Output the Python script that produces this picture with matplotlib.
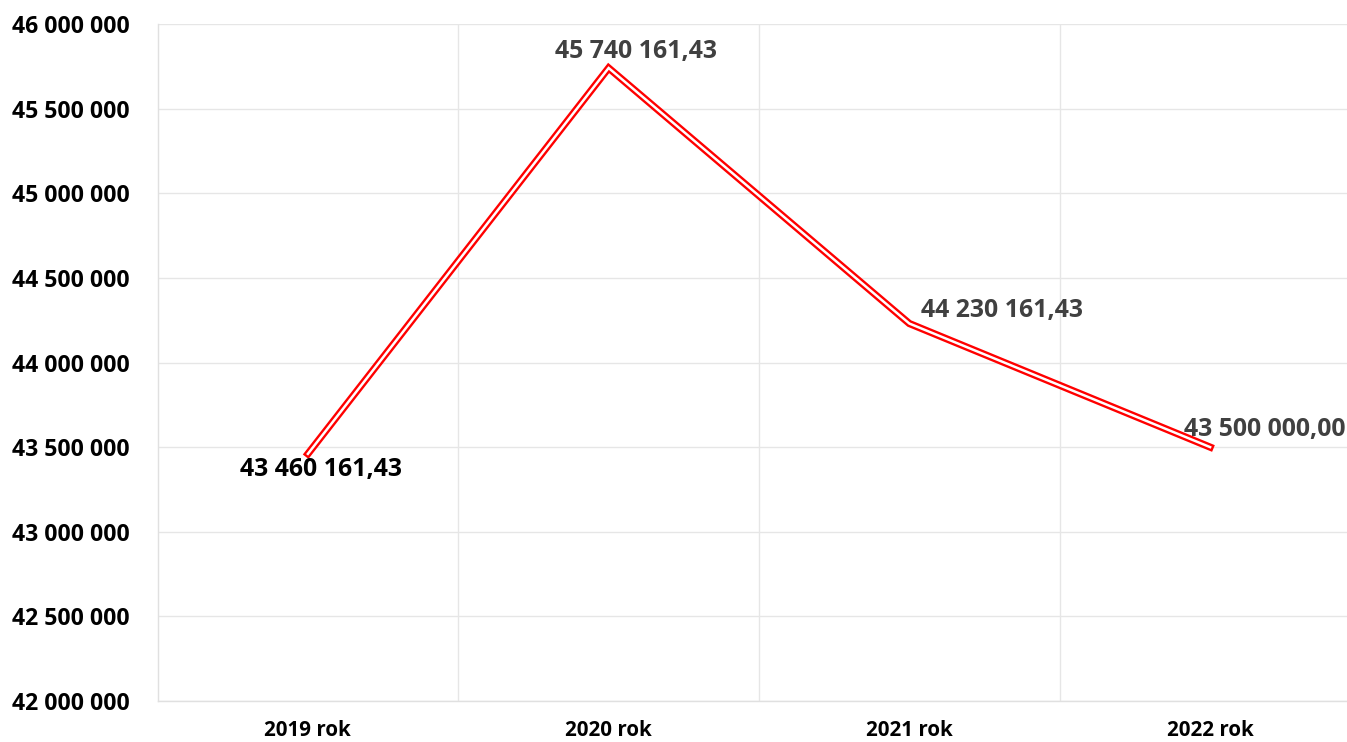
import matplotlib
matplotlib.use("Agg")
import matplotlib.pyplot as plt
from matplotlib.ticker import FuncFormatter, MultipleLocator, FixedLocator

categories = ["2019 rok", "2020 rok", "2021 rok", "2022 rok"]
values = [43460161.43, 45740161.43, 44230161.43, 43500000.00]
label_colors = ["#000000", "#404040", "#404040", "#404040"]

FONT = "Open Sans"
W, H = 1347, 742
fig = plt.figure(figsize=(W / 100, H / 100), dpi=100)
left, right, bottom, top = 157.5, 1360.5, 701, 24
ax = fig.add_axes([left / W, (H - bottom) / H, (right - left) / W, (bottom - top) / H])

x = list(range(len(categories)))
ax.plot(x, values, color="#ff0000", lw=5.2, solid_joinstyle="miter", zorder=3)
ax.plot(x, values, color="white", lw=1.8, solid_joinstyle="miter", zorder=4)

ax.set_xlim(-0.5, len(categories) - 0.5)
ax.set_ylim(42000000, 46000000)
ax.yaxis.set_major_locator(MultipleLocator(500000))
ax.yaxis.set_major_formatter(FuncFormatter(lambda v, p: f"{int(round(v)):,}".replace(",", " ")))
ax.set_xticks(x)
ax.set_xticklabels(categories)
ax.xaxis.set_minor_locator(FixedLocator([i + 0.5 for i in x[:-1]]))

ax.grid(axis="y", which="major", color="#e6e6e6", lw=1)
ax.grid(axis="x", which="minor", color="#e6e6e6", lw=1)
ax.tick_params(axis="both", which="both", length=0)
ax.tick_params(axis="y", pad=20, labelsize=16.6)
ax.tick_params(axis="x", pad=14, labelsize=14.8)
for lab in ax.get_yticklabels() + ax.get_xticklabels():
    lab.set_fontfamily(FONT)
    lab.set_fontweight("bold")
for s in ["top", "right"]:
    ax.spines[s].set_visible(False)
for s in ["left", "bottom"]:
    ax.spines[s].set_color("#e0e0e0")
    ax.spines[s].set_linewidth(1)

offsets = [(13, -16, "center"), (27, 16, "center"), (12, 13, "left"), (-26, 18, "left")]
for xi, v, c, (dx, dy, ha) in zip(x, values, label_colors, offsets):
    txt = f"{v:,.2f}".replace(",", " ").replace(".", ",")
    ax.annotate(txt, (xi, v), xytext=(dx, dy), textcoords="offset pixels",
                ha=ha, va="center", fontsize=17.9, fontweight="bold",
                family=FONT, color=c, zorder=5, annotation_clip=False)

fig.savefig("out.png", dpi=100)
